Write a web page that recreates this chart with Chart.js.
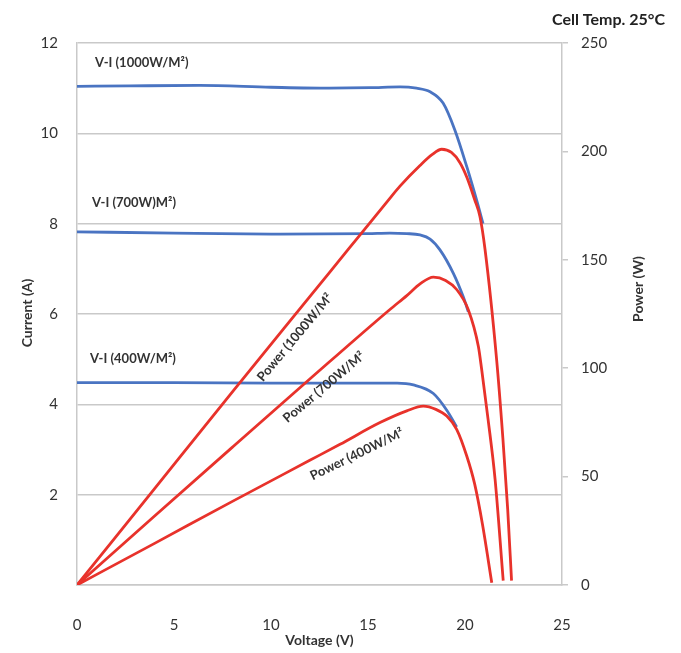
<!DOCTYPE html>
<html>
<head>
<meta charset="utf-8">
<script src="https://cdn.jsdelivr.net/npm/chart.js@4"></script>
<style>
html,body{margin:0;padding:0;background:#fff;}
#wrap{width:681px;height:653px;}
</style>
</head>
<body>
<div id="wrap"><canvas id="c" width="681" height="653"></canvas></div>
<script>
// ---- data ----
const xTicks = [0, 5, 10, 15, 20, 25];
const currentTicks = [0, 2, 4, 6, 8, 10, 12];
const powerTicks = [0, 50, 100, 150, 200, 250];

// V-I curves (Voltage V, Current A)
const viV1000 = [0, 2.7, 6.3, 10, 13, 15.1, 16.65, 17.5, 18.2, 18.87, 19.48, 20.1, 20.6, 20.93];
const viI1000 = [11.04, 11.05, 11.06, 11.02, 11.0, 11.01, 11.03, 11.0, 10.92, 10.67, 10.07, 9.25, 8.52, 8.0];
const viV700 = [0, 5, 10, 15, 16.13, 17.0, 17.68, 18.2, 18.71, 19.4, 19.91, 20.17];
const viI700 = [7.82, 7.79, 7.77, 7.78, 7.79, 7.78, 7.75, 7.66, 7.42, 6.9, 6.38, 6.05];
const viV400 = [0, 5, 10, 15.62, 16.5, 17.34, 18.37, 19.06, 19.57];
const viI400 = [4.48, 4.48, 4.47, 4.47, 4.47, 4.43, 4.24, 3.87, 3.5];

// Power curves (Voltage V, Power W)
const pV1000 = [0, 4, 8, 12, 14, 16, 16.65, 17.68, 18.3, 18.8, 19.3, 19.74, 20.1, 20.5, 20.77, 21.03, 21.63, 21.95, 22.2, 22.4];
const pP1000 = [0, 44.5, 89, 133, 155, 177, 184, 193.5, 198.5, 201, 199.5, 194.8, 188, 177.7, 170, 155, 104, 68, 35, 2];
const pV700 = [0, 4, 8, 12, 16.13, 17.0, 17.7, 18.37, 19.0, 19.57, 20.17, 20.69, 20.86, 21.19, 21.55, 21.97];
const pP700 = [0, 31.8, 63.5, 95, 127.1, 133.5, 139, 142, 140.5, 136.3, 127, 110, 99.4, 76.4, 48.8, 2];
const pV400 = [0, 4, 8.06, 12, 13.56, 15.62, 17.0, 17.85, 18.5, 19.06, 19.57, 20.09, 20.5, 20.9, 21.38];
const pP400 = [0, 19.2, 38.8, 57.5, 64.9, 74.9, 80.3, 82.5, 81, 77.9, 71.8, 59.5, 46.5, 28, 1];

// in-chart labels: text, anchor voltage, anchor value, axis, angle (deg)
const noteTexts = ['V-I (1000W/M²)', 'V-I (700W)M²)', 'V-I (400W/M²)', 'Power (1000W/M²', 'Power (700W/M²', 'Power (400W/M²'];
const noteV = [0.93, 0.77, 0.67, 11.24, 12.73, 14.43];
const noteVal = [11.56, 8.46, 5.0, 114.2, 91.2, 60.3];
const noteAxis = ['yI', 'yI', 'yI', 'yP', 'yP', 'yP'];
const noteAngle = [0, 0, 0, -50, -40, -26];

const chartTitle = 'Cell Temp. 25°C';
const xTitle = 'Voltage (V)';
const yLeftTitle = 'Current (A)';
const yRightTitle = 'Power (W)';

const pts = (xs, ys) => xs.map((v, i) => ({x: v, y: ys[i]}));

const BLUE = '#4a74c2';
const RED = '#e8322b';
const GRID = '#c9c9c9';
const TXT = '#333333';
const FONT = 'Lato, "Open Sans", sans-serif';

function line(data, color, axis, order) {
  return {
    data, borderColor: color, backgroundColor: color, borderWidth: 2.8,
    pointRadius: 0, showLine: true, fill: false, yAxisID: axis, order,
    cubicInterpolationMode: 'monotone'
  };
}

const textPlugin = {
  id: 'texts',
  afterDraw(chart) {
    const ctx = chart.ctx;
    const xs = chart.scales.x;
    ctx.save();
    ctx.fillStyle = TXT;
    // in-chart notes
    ctx.font = 'bold 13px ' + FONT;
    for (let i = 0; i < noteTexts.length; i++) {
      const px = xs.getPixelForValue(noteV[i]);
      const py = chart.scales[noteAxis[i]].getPixelForValue(noteVal[i]);
      ctx.save();
      ctx.translate(px, py);
      if (noteAngle[i] !== 0) {
        ctx.rotate(noteAngle[i] * Math.PI / 180);
        ctx.textAlign = 'center';
      } else {
        ctx.textAlign = 'left';
      }
      ctx.textBaseline = 'middle';
      ctx.fillText(noteTexts[i], 0, 0);
      ctx.restore();
    }
    // title
    ctx.font = 'bold 16px ' + FONT;
    ctx.textAlign = 'right';
    ctx.textBaseline = 'middle';
    ctx.fillStyle = '#222';
    ctx.fillText(chartTitle, 665, 20);
    // axis titles
    ctx.fillStyle = TXT;
    ctx.font = 'bold 14px ' + FONT;
    ctx.textAlign = 'center';
    ctx.fillText(xTitle, (chart.chartArea.left + chart.chartArea.right) / 2, 640);
    ctx.save();
    ctx.translate(27, 313);
    ctx.rotate(-Math.PI / 2);
    ctx.fillText(yLeftTitle, 0, 0);
    ctx.restore();
    ctx.save();
    ctx.translate(638, 289);
    ctx.rotate(-Math.PI / 2);
    ctx.fillText(yRightTitle, 0, 0);
    ctx.restore();
    ctx.restore();
  }
};

new Chart(document.getElementById('c'), {
  type: 'scatter',
  data: {
    datasets: [
      line(pts(viV1000, viI1000), BLUE, 'yI', 2),
      line(pts(viV700, viI700), BLUE, 'yI', 2),
      line(pts(viV400, viI400), BLUE, 'yI', 2),
      line(pts(pV1000, pP1000), RED, 'yP', 1),
      line(pts(pV700, pP700), RED, 'yP', 1),
      line(pts(pV400, pP400), RED, 'yP', 1)
    ]
  },
  options: {
    responsive: false,
    animation: false,
    layout: {padding: {top: 43, left: 0, right: 0, bottom: 0}},
    plugins: {legend: {display: false}, tooltip: {enabled: false}},
    scales: {
      x: {
        type: 'linear', min: 0, max: 25,
        afterBuildTicks: s => { s.ticks = xTicks.map(v => ({value: v})); },
        afterFit: s => { s.height = 68; },
        grid: {display: false},
        border: {display: true, color: GRID, width: 1.5},
        ticks: {color: TXT, font: {family: FONT, size: 15}, padding: 23, maxRotation: 0}
      },
      yI: {
        type: 'linear', position: 'left', min: 0, max: 12,
        afterBuildTicks: s => { s.ticks = currentTicks.map(v => ({value: v})); },
        afterFit: s => { s.width = 77; },
        grid: {color: GRID, lineWidth: 1.5, drawTicks: false},
        border: {display: true, color: GRID, width: 1.5},
        ticks: {color: TXT, font: {family: FONT, size: 15}, padding: 19,
          callback: v => (v === 0 ? '' : String(v))}
      },
      yP: {
        type: 'linear', position: 'right', min: 0, max: 250,
        afterBuildTicks: s => { s.ticks = powerTicks.map(v => ({value: v})); },
        afterFit: s => { s.width = 119; },
        grid: {drawOnChartArea: false, drawTicks: true, tickLength: 6, color: GRID, lineWidth: 1.5},
        border: {display: true, color: GRID, width: 1.5},
        ticks: {color: TXT, font: {family: FONT, size: 15}, padding: 13}
      }
    }
  },
  plugins: [textPlugin]
});
</script>
</body>
</html>
